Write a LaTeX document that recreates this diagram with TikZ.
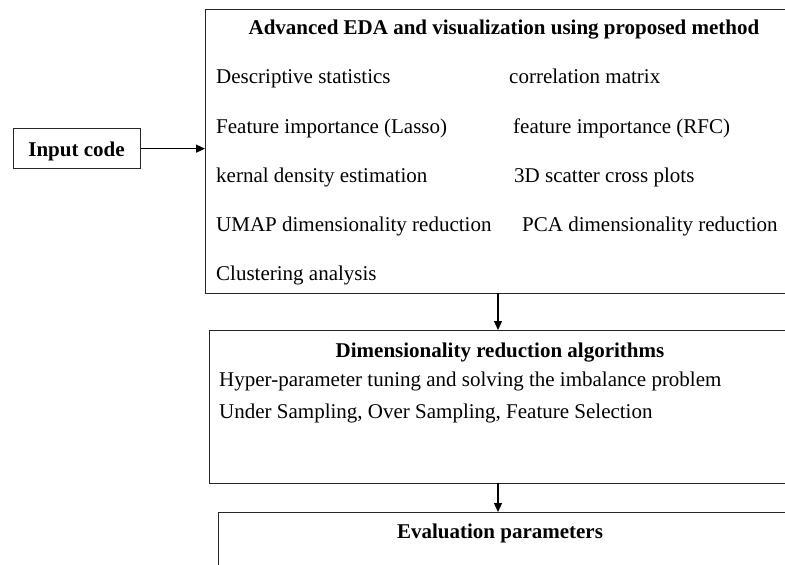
\documentclass[tikz,border=0pt]{standalone}
\usepackage{fontspec}
\setmainfont{Liberation Serif}
\usetikzlibrary{arrows.meta}
\begin{document}
\begin{tikzpicture}[x=1pt,y=-1pt,
  box/.style={draw=black!85,line width=1.3pt,anchor=north west,inner sep=0pt},
  txt/.style={anchor=base west,inner sep=0pt,font=\fontsize{21}{24}\selectfont},
  ttl/.style={anchor=base,inner sep=0pt,font=\fontsize{21}{24}\selectfont\bfseries},
  arr/.style={-{Triangle[length=9pt,width=8pt]},line width=1.2pt}]
\useasboundingbox (0,0) rectangle (785,565);
\clip (0,0) rectangle (785,565);
% boxes
\node[box,minimum width=127pt,minimum height=40pt] (inp) at (13,128) {};
\node[ttl] at (76.5,156) {Input code};
\node[box,minimum width=620pt,minimum height=284pt] (b1) at (205,9) {};
\node[box,minimum width=620pt,minimum height=153pt] (b2) at (209,330) {};
\node[box,minimum width=620pt,minimum height=80pt] (b3) at (218,512) {};
% box 1 text
\node[ttl] (t1) at (504,34) {Advanced EDA and visualization using proposed method};
\node[txt] at (216,83) {Descriptive statistics};
\node[txt] at (509,83) {correlation matrix};
\node[txt] at (216,133) {Feature importance (Lasso)};
\node[txt] at (513,133) {feature importance (RFC)};
\node[txt] at (216,182) {kernal density estimation};
\node[txt] at (514,182) {3D scatter cross plots};
\node[txt] at (216,231) {UMAP dimensionality reduction};
\node[txt] at (522,231) {PCA dimensionality reduction};
\node[txt] at (216,280) {Clustering analysis};
% box 2 text
\node[ttl] (t2) at (500,357) {Dimensionality reduction algorithms};
\node[txt] at (219,386) {Hyper-parameter tuning and solving the imbalance problem};
\node[txt] at (219,418) {Under Sampling, Over Sampling, Feature Selection};
% box 3 text
\node[ttl] (t3) at (500,538) {Evaluation parameters};
% arrows
\coordinate (a1s) at (498,293);
\coordinate (a2s) at (498,483);
\draw[arr] (inp.east) -- (inp.east -| b1.west);
\draw[arr] (a1s) -- (a1s |- b2.north);
\draw[arr] (a2s) -- (a2s |- b3.north);
\end{tikzpicture}
\end{document}
